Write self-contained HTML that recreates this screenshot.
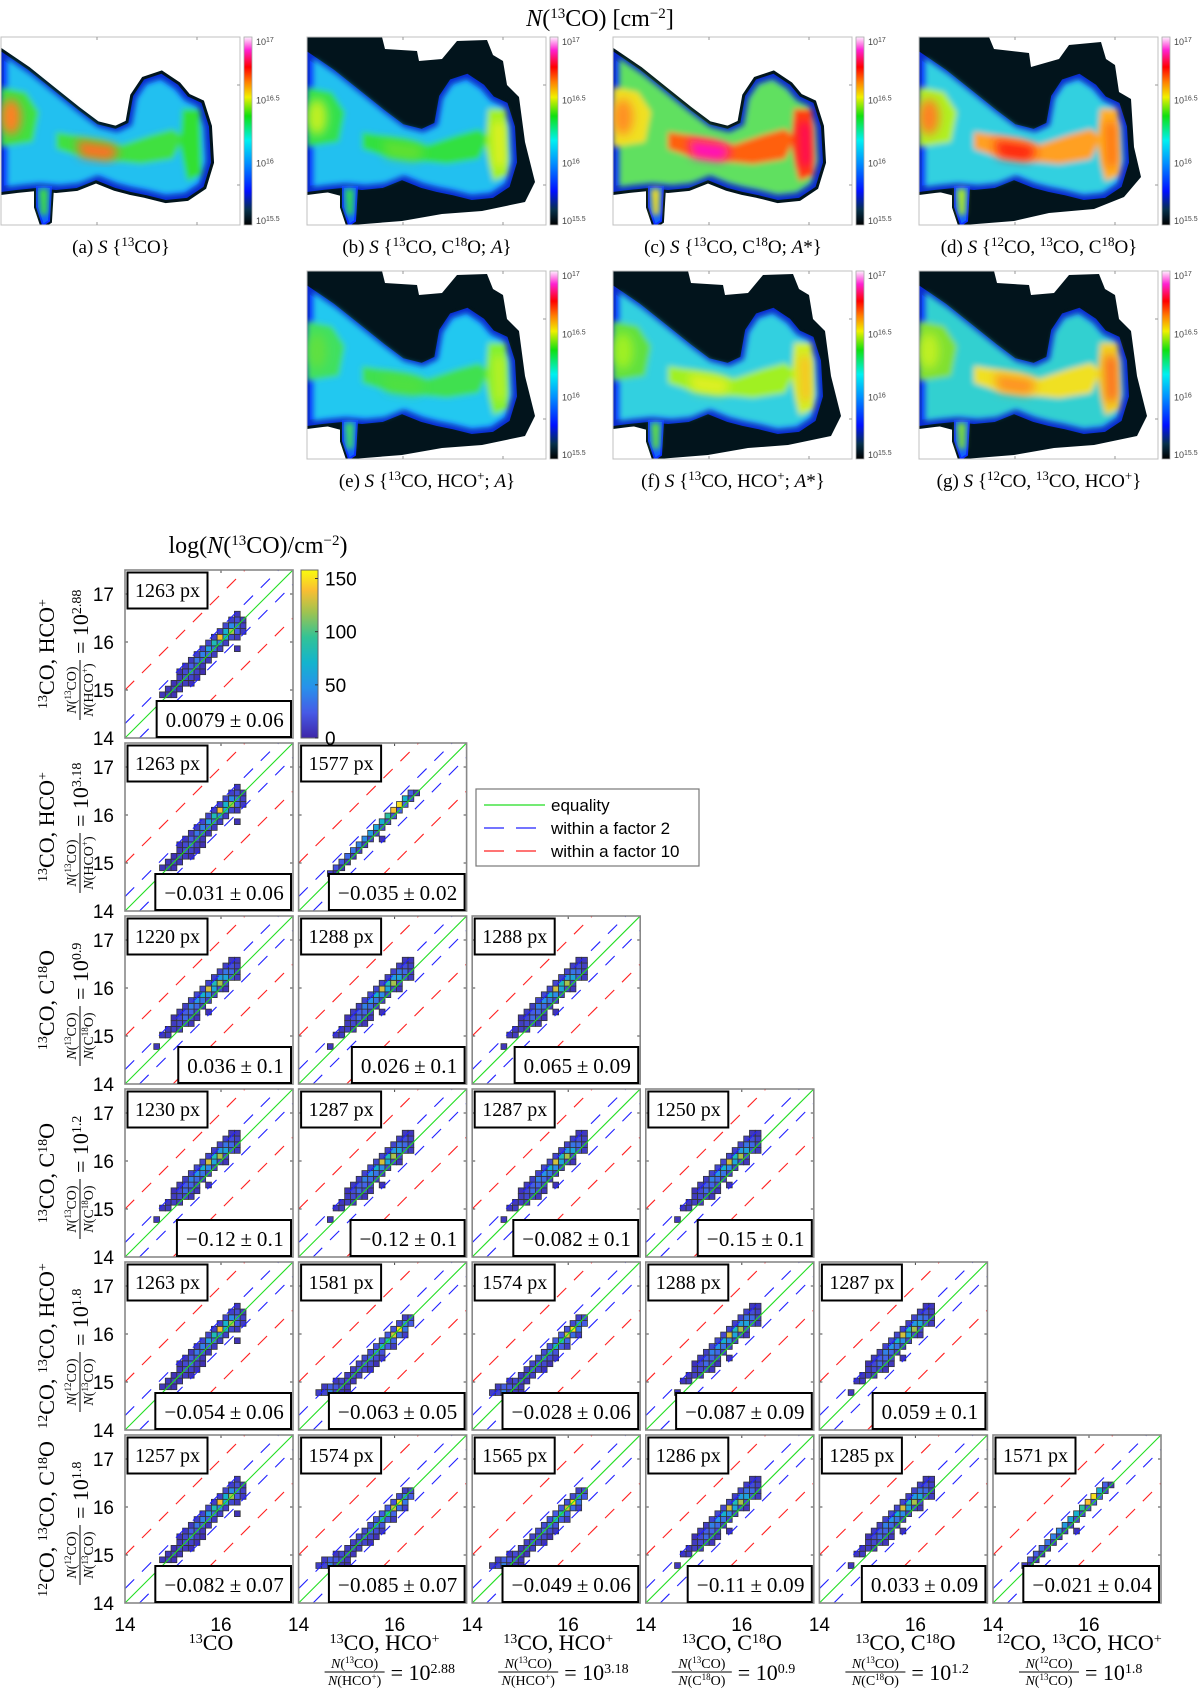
<!DOCTYPE html>
<html><head><meta charset="utf-8">
<style>
html,body{margin:0;padding:0;background:#fff;}
svg{display:block;}
.serif{font-family:"Liberation Serif",serif;}
.sans{font-family:"Liberation Sans",sans-serif;}
</style></head>
<body>
<svg id="fig" width="1200" height="1693" viewBox="0 0 1200 1693" xmlns="http://www.w3.org/2000/svg">
<defs>
<linearGradient id="jet" x1="0" y1="1" x2="0" y2="0">
<stop offset="0" stop-color="#000000"/><stop offset="0.08" stop-color="#06304a"/><stop offset="0.18" stop-color="#0010ff"/>
<stop offset="0.33" stop-color="#0090ff"/><stop offset="0.45" stop-color="#00f0f0"/><stop offset="0.58" stop-color="#10e010"/>
<stop offset="0.68" stop-color="#f0f000"/><stop offset="0.76" stop-color="#ff8000"/><stop offset="0.84" stop-color="#ff0000"/>
<stop offset="0.93" stop-color="#ff20d0"/><stop offset="1" stop-color="#fff0ff"/>
</linearGradient>
<linearGradient id="parula" x1="0" y1="1" x2="0" y2="0">
<stop offset="0" stop-color="#3e26a8"/><stop offset="0.15" stop-color="#465ae6"/><stop offset="0.3" stop-color="#2891eb"/>
<stop offset="0.45" stop-color="#14b4cd"/><stop offset="0.6" stop-color="#32c396"/><stop offset="0.75" stop-color="#a0c350"/>
<stop offset="0.88" stop-color="#fabe32"/><stop offset="1" stop-color="#f9fb0e"/>
</linearGradient>
<filter id="soft" x="-10%" y="-10%" width="120%" height="120%"><feGaussianBlur stdDeviation="3"/></filter>
<filter id="soft2" x="-10%" y="-10%" width="120%" height="120%"><feGaussianBlur stdDeviation="5"/></filter>
</defs>
<g id="maps"></g>
<g id="grid"></g>
</svg>
<script>
const shapeS1 = [
 [7,6,[8,10,6]],[8,7,[8,12,8]],[9,8,[6,14,10,5]],[10,9,[8,18,14,6]],
 [11,9,[6,16,30,12,5]],[12,10,[8,25,18,8]],[13,11,[10,35,22,8]],[14,12,[12,40,25,10]],
 [15,13,[14,55,30,12]],[15,19,[6]],[16,14,[15,80,40,12]],[17,15,[12,140,60,16,8]],
 [18,16,[12,70,120,25,10]],[19,17,[16,45,30,12]],[20,18,[12,18,10]],[21,19,[8]]
];
const shapeS2 = [
 [6,5,[10,5]],[7,6,[20,6]],[8,7,[25,8]],[9,8,[30,8]],[10,9,[35,10]],[11,10,[40,10]],
 [12,11,[45,12]],[12,14,[6]],[13,12,[55,14]],[14,13,[60,16]],[15,14,[70,18]],[16,15,[90,20]],
 [17,16,[140,25]],[18,17,[150,28]],[19,18,[70,16]],[20,19,[25,8]]
];
const shapeS3 = [
 [6,5,[8]],[8,6,[8,10]],[9,7,[8,12,10]],[10,8,[10,16,14,8]],[11,8,[6,16,30,16,8]],
 [12,9,[10,25,28,14]],[12,14,[6]],[13,10,[12,40,30,12]],[14,11,[14,50,35,12]],
 [15,12,[16,70,45,14]],[16,13,[16,130,60,16,8]],[17,14,[14,80,120,16]],
 [18,15,[12,55,60,20,10]],[19,16,[14,35,30,12]],[20,17,[12,18,12]],[21,18,[8,8]]
];
const shapeS4 = [
 [6,3,[12,14,40,12,10,6]],[7,4,[10,25,22,16,8]],[8,6,[8,16,14,8]],[9,8,[10,16,12]],
 [10,9,[12,20,14,6]],[11,10,[14,22,16]],[11,13,[6]],[12,11,[16,30,18,8]],[13,12,[18,40,20]],
 [14,13,[20,60,24,10]],[15,14,[24,80,28]],[16,15,[24,130,32,12]],[17,16,[20,150,36]],
 [18,17,[16,40,24]],[19,18,[12,16]]
];
const pxCounts = [
 [1263],[1263,1577],[1220,1288,1288],[1230,1287,1287,1250],
 [1263,1581,1574,1288,1287],[1257,1574,1565,1286,1285,1571]
];
const offsetVals = [
 ["0.0079 ± 0.06"],["−0.031 ± 0.06","−0.035 ± 0.02"],
 ["0.036 ± 0.1","0.026 ± 0.1","0.065 ± 0.09"],
 ["−0.12 ± 0.1","−0.12 ± 0.1","−0.082 ± 0.1","−0.15 ± 0.1"],
 ["−0.054 ± 0.06","−0.063 ± 0.05","−0.028 ± 0.06","−0.087 ± 0.09","0.059 ± 0.1"],
 ["−0.082 ± 0.07","−0.085 ± 0.07","−0.049 ± 0.06","−0.11 ± 0.09","0.033 ± 0.09","−0.021 ± 0.04"]
];
const panelShapes = [
 ["S1"],["S1","S2"],["S3","S3","S3"],["S3","S3","S3","S3"],
 ["S1","S4","S4","S3","S3"],["S1","S4","S4","S3","S3","S2"]
];
const rowMain = ['<tspan baseline-shift="super" font-size="14">13</tspan>CO, HCO<tspan baseline-shift="super" font-size="14">+</tspan>',
 '<tspan baseline-shift="super" font-size="14">13</tspan>CO, HCO<tspan baseline-shift="super" font-size="14">+</tspan>',
 '<tspan baseline-shift="super" font-size="14">13</tspan>CO, C<tspan baseline-shift="super" font-size="14">18</tspan>O',
 '<tspan baseline-shift="super" font-size="14">13</tspan>CO, C<tspan baseline-shift="super" font-size="14">18</tspan>O',
 '<tspan baseline-shift="super" font-size="14">12</tspan>CO, <tspan baseline-shift="super" font-size="14">13</tspan>CO, HCO<tspan baseline-shift="super" font-size="14">+</tspan>',
 '<tspan baseline-shift="super" font-size="14">12</tspan>CO, <tspan baseline-shift="super" font-size="14">13</tspan>CO, C<tspan baseline-shift="super" font-size="14">18</tspan>O'];
const rowNum = ["13CO","13CO","13CO","13CO","12CO","12CO"];
const rowDen = ["HCO+","HCO+","C18O","C18O","13CO","13CO"];
const rowExp = ["2.88","3.18","0.9","1.2","1.8","1.8"];
const colMain = ['<tspan baseline-shift="super" font-size="14">13</tspan>CO',
 rowMain[0], rowMain[1], rowMain[2], rowMain[3], rowMain[4]];
const colNum = [null,"13CO","13CO","13CO","13CO","12CO"];
const colDen = [null,"HCO+","HCO+","C18O","C18O","13CO"];
const colExp = [null,"2.88","3.18","0.9","1.2","1.8"];
const yTicks = [14,15,16,17];
const xTickLabels = [14,16];
const cbTicks = [0,50,100,150];
const cbMax = 158;
const lineOffsets = [0, Math.log10(2), -Math.log10(2), 1, -1];

const NS = "http://www.w3.org/2000/svg";
const svg = document.getElementById('fig');
const grid = document.getElementById('grid');
const maps = document.getElementById('maps');
function mk(tag, attrs, parent){ const e=document.createElementNS(NS,tag); for(const k in attrs) e.setAttribute(k,attrs[k]); (parent||svg).appendChild(e); return e; }
const PS=168, UNIT=48, BIN=0.12, VMIN=14, VMAX=17.5;
function L(c){return 125+173.6*c;}
function T(r){return 570+173*r;}
function sx(c,v){return L(c)+(v-VMIN)*UNIT;}
function sy(r,v){return T(r)+PS-(v-VMIN)*UNIT;}
const parulaStops=[[0,[62,38,168]],[0.15,[70,90,230]],[0.3,[40,145,235]],[0.45,[20,180,205]],[0.6,[50,195,150]],[0.75,[160,195,80]],[0.88,[250,190,50]],[1,[249,251,14]]];
function parula(t){t=Math.max(0,Math.min(1,t));for(let i=1;i<parulaStops.length;i++){const a=parulaStops[i-1],b=parulaStops[i];if(t<=b[0]){const f=(t-a[0])/(b[0]-a[0]);return 'rgb('+a[1].map((v,j)=>Math.round(v+(b[1][j]-v)*f)).join(',')+')';}}return 'rgb(249,251,14)';}
const shapes={S1:shapeS1,S2:shapeS2,S3:shapeS3,S4:shapeS4};

function fracLabel(parent, cx, cy, num, den, exp, rotate){
  const g=mk('g',{transform:'translate('+cx+','+cy+')'+(rotate?' rotate(-90)':'')},parent);
  
  
  const fmt=s=>s.replace(/^(\d+)CO/,'(<tspan baseline-shift="super" font-size="9">$1</tspan>CO)').replace(/^C(\d+)O/,'(C<tspan baseline-shift="super" font-size="9">$1</tspan>O)').replace(/^HCO\+/,'(HCO<tspan baseline-shift="super" font-size="9">+</tspan>)');
  const t1=mk('text',{x:-32,y:-4,'text-anchor':'middle','font-size':14,class:'serif'},g);
  t1.innerHTML='<tspan font-style="italic">N</tspan>'+fmt(num);
  mk('line',{x1:-62,x2:-2,y1:0,y2:0,stroke:'#000','stroke-width':1},g);
  const t2=mk('text',{x:-32,y:13,'text-anchor':'middle','font-size':14,class:'serif'},g);
  t2.innerHTML='<tspan font-style="italic">N</tspan>'+fmt(den);
  const t3=mk('text',{x:4,y:8,'text-anchor':'start','font-size':22,class:'serif'},g);
  t3.innerHTML='= 10<tspan baseline-shift="super" font-size="14">'+exp+'</tspan>';
}

for(let r=0;r<6;r++){
  for(let c=0;c<=r;c++){
    const g=mk('g',{},grid);
    
    
    mk('rect',{x:L(c),y:T(r),width:PS,height:PS,fill:'#fff'},g);
    const clipId='clip'+r+'_'+c;
    const cp=mk('clipPath',{id:clipId},g); mk('rect',{x:L(c),y:T(r),width:PS,height:PS},cp);
    const lg=mk('g',{'clip-path':'url(#'+clipId+')'},g);
    shapes[panelShapes[r][c]].forEach(row=>{
      const yb=row[0], xs=row[1];
      row[2].forEach((cnt,k)=>{
        const xv=VMIN+(xs+k)*BIN, yv=VMIN+yb*BIN;
        const cell=mk('rect',{x:sx(c,xv),y:sy(r,yv+BIN),width:BIN*UNIT,height:BIN*UNIT,fill:parula(cnt/cbMax),stroke:'#333','stroke-width':0.8},lg);
        
        
      });
    });
    lineOffsets.forEach((d,i)=>{
      const x0=Math.max(VMIN,VMIN-d), x1=Math.min(VMAX,VMAX-d);
      const col=i===0?'#22dd22':(i<3?'#2020ff':'#ff2020');
      const ln=mk('line',{x1:sx(c,x0),y1:sy(r,x0+d),x2:sx(c,x1),y2:sy(r,x1+d),stroke:col,'stroke-width':1.1,'stroke-dasharray':i===0?'none':'13 11'},lg);
      
      
    });
    [15,16,17].forEach(v=>{mk('line',{x1:L(c),x2:L(c)+3,y1:sy(r,v),y2:sy(r,v),stroke:'#444'},g);mk('line',{x1:L(c)+PS-3,x2:L(c)+PS,y1:sy(r,v),y2:sy(r,v),stroke:'#444'},g);});
    [16].forEach(v=>{mk('line',{x1:sx(c,v),x2:sx(c,v),y1:T(r)+PS-3,y2:T(r)+PS,stroke:'#444'},g);mk('line',{x1:sx(c,v),x2:sx(c,v),y1:T(r),y2:T(r)+3,stroke:'#444'},g);});
    const fr=mk('rect',{x:L(c),y:T(r),width:PS,height:PS,fill:'none',stroke:'#888','stroke-width':1.6},g);
    
    
    const pb=mk('rect',{x:L(c)+2.5,y:T(r)+2.5,width:80,height:36,fill:'#fff',stroke:'#000','stroke-width':2},g);
    
    
    const pt=mk('text',{x:L(c)+42.5,y:T(r)+27,'text-anchor':'middle','font-size':20,class:'serif'},g);
    pt.textContent=pxCounts[r][c]+' px';
    
    
    const vt=mk('text',{x:L(c)+159,y:T(r)+157,'text-anchor':'end','font-size':21,'letter-spacing':'0.3',class:'serif'},g);
    vt.textContent=offsetVals[r][c].replace(' ± ','\u2009±\u2009');
    
    
    const w=vt.getComputedTextLength()+16;
    const vb=mk('rect',{x:L(c)+166-w,y:T(r)+131,width:w,height:36,fill:'#fff',stroke:'#000','stroke-width':2},g);
    
    
    g.appendChild(vt);
  }
  yTicks.forEach(v=>{
    const t=mk('text',{x:114,y:sy(r,v)+7,'text-anchor':'end','font-size':19,class:'sans'},grid);
    t.textContent=v;
    
    
  });
  const cy=T(r)+PS/2;
  const rm=mk('text',{transform:'translate(54,'+cy+') rotate(-90)','text-anchor':'middle','font-size':22,class:'serif'},grid);
  rm.innerHTML=rowMain[r];
  
  
  fracLabel(grid,80,cy+4,rowNum[r],rowDen[r],rowExp[r],true);
}
for(let c=0;c<6;c++){
  xTickLabels.forEach(v=>{
    const t=mk('text',{x:sx(c,v),y:1631,'text-anchor':'middle','font-size':19,class:'sans'},grid);
    t.textContent=v;
    
    
  });
  const xm=mk('text',{x:L(c)+86,y:1650,'text-anchor':'middle','font-size':22,class:'serif'},grid);
  xm.innerHTML=colMain[c];
  
  
  if(colNum[c]) fracLabel(grid,L(c)+88,1672,colNum[c],colDen[c],colExp[c],false);
}
{
  const cbx=301, cbt=570, cbb=738;
  const r=mk('rect',{x:cbx,y:cbt,width:17,height:cbb-cbt,fill:'url(#parula)',stroke:'#666','stroke-width':1},grid);
  
  
  cbTicks.forEach(v=>{
    const yy=cbb-(v/cbMax)*(cbb-cbt);
    mk('line',{x1:cbx+14,x2:cbx+17,y1:yy,y2:yy,stroke:'#333'},grid);
    const t=mk('text',{x:cbx+24,y:yy+7,'font-size':19,class:'sans'},grid);
    t.textContent=v;
    
    
  });
  const tt=mk('text',{x:258,y:553,'text-anchor':'middle','font-size':24,class:'serif'},grid);
  tt.innerHTML='log(<tspan font-style="italic">N</tspan>(<tspan baseline-shift="super" font-size="15">13</tspan>CO)/cm<tspan baseline-shift="super" font-size="15">−2</tspan>)';
  
  
}
{
  const lg=mk('g',{},grid);
  
  
  mk('rect',{x:476,y:789,width:223,height:77,fill:'#fff',stroke:'#777','stroke-width':1.2},lg);
  const items=[['equality','#22dd22','none'],['within a factor 2','#2020ff','20 12'],['within a factor 10','#ff2020','20 12']];
  items.forEach((it,i)=>{
    const yy=805+i*23;
    mk('line',{x1:484,x2:545,y1:yy,y2:yy,stroke:it[1],'stroke-width':1.2,'stroke-dasharray':it[2]},lg);
    const t=mk('text',{x:551,y:yy+6,'font-size':17,class:'sans'},lg);
    t.textContent=it[0];
    
    
  });
}

const mapPos=[[1,37],[307,37],[613,37],[919,37],[307,271],[613,271],[919,271]];
const mapCaps=['(a) <tspan font-style="italic">S</tspan> {<tspan baseline-shift="super" font-size="13">13</tspan>CO}',
 '(b) <tspan font-style="italic">S</tspan> {<tspan baseline-shift="super" font-size="13">13</tspan>CO, C<tspan baseline-shift="super" font-size="13">18</tspan>O; <tspan font-style="italic">A</tspan>}',
 '(c) <tspan font-style="italic">S</tspan> {<tspan baseline-shift="super" font-size="13">13</tspan>CO, C<tspan baseline-shift="super" font-size="13">18</tspan>O; <tspan font-style="italic">A</tspan>*}',
 '(d) <tspan font-style="italic">S</tspan> {<tspan baseline-shift="super" font-size="13">12</tspan>CO, <tspan baseline-shift="super" font-size="13">13</tspan>CO, C<tspan baseline-shift="super" font-size="13">18</tspan>O}',
 '(e) <tspan font-style="italic">S</tspan> {<tspan baseline-shift="super" font-size="13">13</tspan>CO, HCO<tspan baseline-shift="super" font-size="13">+</tspan>; <tspan font-style="italic">A</tspan>}',
 '(f) <tspan font-style="italic">S</tspan> {<tspan baseline-shift="super" font-size="13">13</tspan>CO, HCO<tspan baseline-shift="super" font-size="13">+</tspan>; <tspan font-style="italic">A</tspan>*}',
 '(g) <tspan font-style="italic">S</tspan> {<tspan baseline-shift="super" font-size="13">12</tspan>CO, <tspan baseline-shift="super" font-size="13">13</tspan>CO, HCO<tspan baseline-shift="super" font-size="13">+</tspan>}'];
const bigBlack="0,0 75,0 78,12 110,14 112,24 135,22 150,4 180,3 186,18 196,24 200,48 212,60 218,105 228,145 218,165 175,174 135,177 95,184 45,188 38,160 0,150";
const blackD="0,0 70,0 75,12 110,16 112,30 140,22 150,8 182,5 187,22 196,28 200,55 212,62 215,110 222,140 205,160 175,172 130,176 95,184 45,188 40,160 0,150";
const body="0,18 25,35 50,55 75,75 95,90 115,95 130,88 135,60 145,45 160,40 175,50 185,62 198,68 205,90 207,125 200,148 185,158 165,160 145,155 130,152 115,148 95,140 75,148 55,150 35,148 15,150 0,152";
const finger="36,150 50,150 48,184 42,188 36,170";
const leftBlob="0,50 25,55 38,75 32,105 0,110";
const midBand="55,95 100,102 120,108 150,98 172,92 182,100 172,122 140,127 110,124 80,120 55,112";
const rightStripe="181,72 199,72 201,138 186,144 179,110";
const coreMid="75,103 112,108 118,116 108,124 80,120";
const coreRight="186,85 197,85 198,128 188,132";
const mapStyle=[
 {black:null, bodyC:'#20c0f0', leftC:'#40e040', midC:'#40e040', rightC:'#30e030', coreC:'#ff7020', coreR:null, leftCore:'#ff8020'},
 {black:bigBlack, bodyC:'#20c0f0', leftC:'#30e050', midC:'#30e040', rightC:'#a0f020', coreC:'#60e030', coreR:'#e8f020', leftCore:'#c0f020'},
 {black:null, bodyC:'#60e060', leftC:'#f0e020', midC:'#ff6010', rightC:'#ff4010', coreC:'#ff10c0', coreR:'#ff0060', leftCore:'#ff9020'},
 {black:blackD, bodyC:'#30d0e0', leftC:'#b0f020', midC:'#ffa020', rightC:'#ffb020', coreC:'#ff2010', coreR:'#ff7010', leftCore:'#ff8020'},
 {black:bigBlack, bodyC:'#20c8f0', leftC:'#40e060', midC:'#40e050', rightC:'#80f030', coreC:'#50e040', coreR:'#c0f020', leftCore:'#60e040'},
 {black:bigBlack, bodyC:'#30d0e0', leftC:'#60e040', midC:'#a0f020', rightC:'#d0f020', coreC:'#e0f020', coreR:'#ffc020', leftCore:'#a0f020'},
 {black:bigBlack, bodyC:'#30d0d0', leftC:'#80e030', midC:'#f0e020', rightC:'#f0d020', coreC:'#ff9020', coreR:'#ff6020', leftCore:'#c0f020'}
];
mapPos.forEach((p,i)=>{
  const st=mapStyle[i];
  const g=mk('g',{},maps);
  
  
  const cid='mclip'+i;
  const cp=mk('clipPath',{id:cid},g); mk('rect',{x:p[0],y:p[1],width:239,height:188},cp);
  const inner=mk('g',{'clip-path':'url(#'+cid+')'},g);
  const ig=mk('g',{transform:'translate('+p[0]+','+p[1]+')'},inner);
  if(st.black) mk('polygon',{points:st.black,fill:'#02141c'},ig);
  mk('polygon',{points:body,fill:'#02141c',stroke:'#02141c','stroke-width':12},ig);
  mk('polygon',{points:finger,fill:'#02141c',stroke:'#02141c','stroke-width':6},ig);
  mk('polygon',{points:body,fill:'#0a30ff',stroke:'#0a2ad0','stroke-width':6},ig);
  mk('polygon',{points:finger,fill:'#1060ff',stroke:'#0a30ff','stroke-width':2},ig);
  const sg=mk('g',{filter:'url(#soft)'},ig);
  mk('polygon',{points:body,fill:st.bodyC,transform:'translate(6,4) scale(0.96)'},sg);
  mk('polygon',{points:"38,152 47,152 46,178 40,178",fill:st.leftC},sg);
  mk('polygon',{points:leftBlob,fill:st.leftC},sg);
  mk('polygon',{points:midBand,fill:st.midC},sg);
  mk('polygon',{points:rightStripe,fill:st.rightC},sg);
  const cg=mk('g',{filter:'url(#soft2)'},ig);
  mk('polygon',{points:coreMid,fill:st.coreC},cg);
  if(st.coreR) mk('polygon',{points:coreRight,fill:st.coreR},cg);
  mk('ellipse',{cx:10,cy:80,rx:10,ry:18,fill:st.leftCore},cg);
  const fr=mk('rect',{x:p[0],y:p[1],width:239,height:188,fill:'none',stroke:'#c0c0c0','stroke-width':1},g);
  
  
  [96,196].forEach(dx=>{mk('line',{x1:p[0]+dx,x2:p[0]+dx,y1:p[1],y2:p[1]+3,stroke:'#999'},g);mk('line',{x1:p[0]+dx,x2:p[0]+dx,y1:p[1]+188,y2:p[1]+185,stroke:'#999'},g);});
  [48,148].forEach(dy=>{mk('line',{x1:p[0]+239,x2:p[0]+236,y1:p[1]+dy,y2:p[1]+dy,stroke:'#999'},g);});
  const cbx=p[0]+243;
  const cb=mk('rect',{x:cbx,y:p[1],width:8,height:188,fill:'url(#jet)',stroke:'#aaa','stroke-width':0.8},g);
  
  
  ['17','16.5','16','15.5'].forEach((e,k)=>{
    const t=mk('text',{x:cbx+12,y:p[1]+k*62.7+(k===0?8:(k===3?-1:4)),'font-size':9,fill:'#444',class:'sans'},g);
    t.innerHTML='10<tspan baseline-shift="super" font-size="7">'+e+'</tspan>';
    
    
  });
  const cap=mk('text',{x:p[0]+120,y:p[1]+216,'text-anchor':'middle','font-size':19,class:'serif'},g);
  cap.innerHTML=mapCaps[i];
  
  
});
{
  const t=mk('text',{x:600,y:26,'text-anchor':'middle','font-size':24,class:'serif'},maps);
  t.innerHTML='<tspan font-style="italic">N</tspan>(<tspan baseline-shift="super" font-size="15">13</tspan>CO) [cm<tspan baseline-shift="super" font-size="15">−2</tspan>]';
  
  
}
</script>
</body></html>
